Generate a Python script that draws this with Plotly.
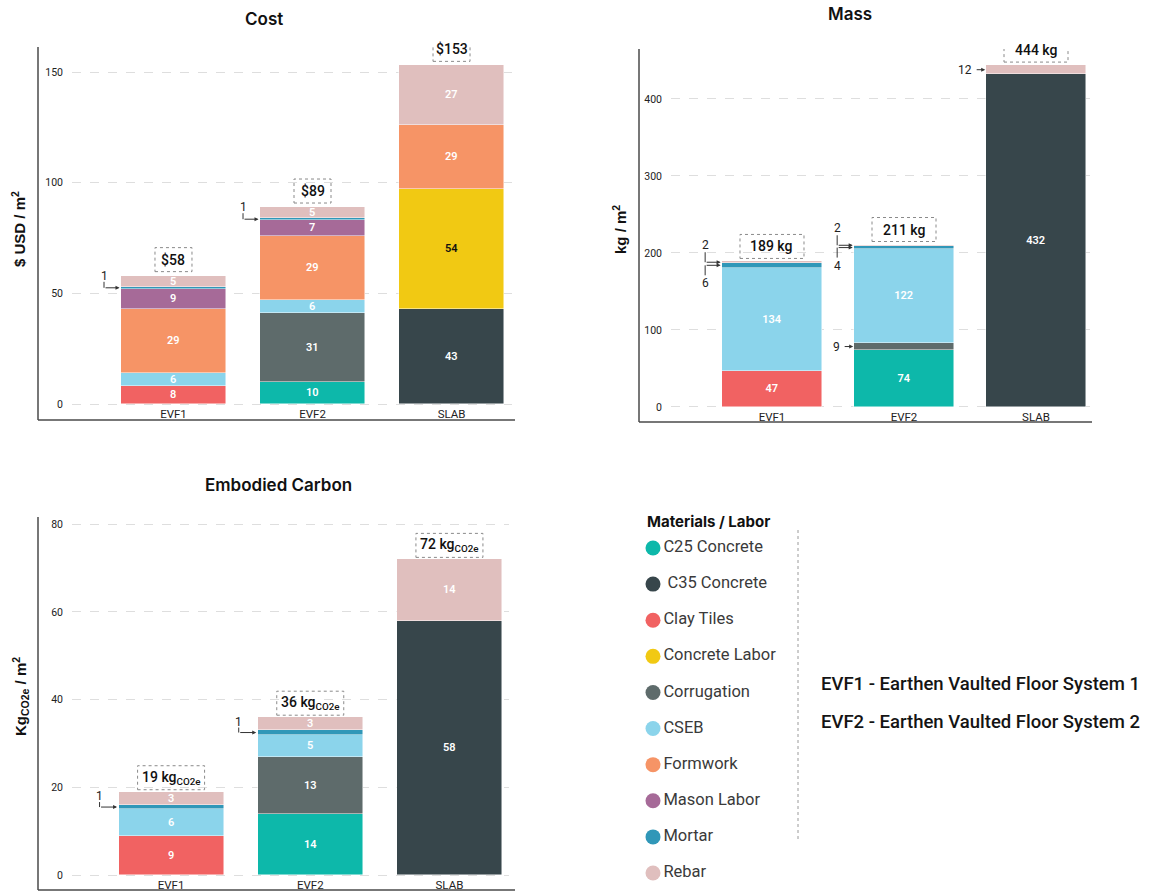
import plotly.graph_objects as go

W, H = 1151, 891

categories = ["EVF1", "EVF2", "SLAB"]
materials = ["C25 Concrete", "C35 Concrete", "Clay Tiles", "Concrete Labor", "Corrugation",
             "CSEB", "Formwork", "Mason Labor", "Mortar", "Rebar"]
legend_labels = ["C25 Concrete", "\u00a0C35 Concrete", "Clay Tiles", "Concrete Labor", "Corrugation",
                 "CSEB", "Formwork", "Mason Labor", "Mortar", "Rebar"]
colors = ["#0db8aa", "#37464b", "#f16262", "#f1c913", "#5e6b6b",
          "#8bd4eb", "#f69466", "#a66a98", "#3097b8", "#e0bfbe"]

# values per category, aligned with `materials`
cost_evf1 = [0, 0, 8, 0, 0, 6, 29, 9, 1, 5]
cost_evf2 = [10, 0, 0, 0, 31, 6, 29, 7, 1, 5]
cost_slab = [0, 43, 0, 54, 0, 0, 29, 0, 0, 27]

mass_evf1 = [0, 0, 47, 0, 0, 134, 0, 0, 6, 2]
mass_evf2 = [74, 0, 0, 0, 9, 122, 0, 0, 4, 2]
mass_slab = [0, 432, 0, 0, 0, 0, 0, 0, 0, 12]

carbon_evf1 = [0, 0, 9, 0, 0, 6, 0, 0, 1, 3]
carbon_evf2 = [14, 0, 0, 0, 13, 5, 0, 0, 1, 3]
carbon_slab = [0, 58, 0, 0, 0, 0, 0, 0, 0, 14]

# small segments labelled outside with an arrow
cost_callouts = [("EVF1", "Mortar", "up"), ("EVF2", "Mortar", "up")]
mass_callouts = [("EVF1", "Rebar", "up"), ("EVF1", "Mortar", "down"),
                 ("EVF2", "Rebar", "up"), ("EVF2", "Mortar", "down"),
                 ("EVF2", "Corrugation", "side"), ("SLAB", "Rebar", "side")]
carbon_callouts = [("EVF1", "Mortar", "up"), ("EVF2", "Mortar", "up")]

system_notes = ["EVF1 - Earthen Vaulted Floor System 1", "EVF2 - Earthen Vaulted Floor System 2"]

BAR_W = 0.755


def fx(p):
    return p / W


def fy(p):
    return 1 - p / H


charts = [
    dict(title="Cost", xa="x", ya="y", rows=[cost_evf1, cost_evf2, cost_slab], callouts=cost_callouts,
         xdom=(72, 512), ydom=(47, 420), zero_px=404, xr=(-0.730, 2.435), yr=(-7.23, 161.3), dtick=50,
         fmt="${}", box_w=37, box_gap=4, up_dy=12, up_line=6, down_dy=17, down_line=10, lab_dx=-17,
         axis=(38, 47, 420, 515), title_xy=(264, 19),
         ytitle="$ USD / m<sup>2</sup>", ytitle_xy=(18, 229)),
    dict(title="Mass", xa="x2", ya="y2", rows=[mass_evf1, mass_evf2, mass_slab], callouts=mass_callouts,
         xdom=(671, 1090), ydom=(49, 422), zero_px=407, xr=(-0.765, 2.409), yr=(-19.5, 464.9), dtick=100,
         fmt="{} kg", box_w=64, box_gap=3, up_dy=17, up_line=10, down_dy=18, down_line=10, lab_dx=-17,
         axis=(639, 49, 422, 1092), title_xy=(850, 14),
         ytitle="kg / m<sup>2</sup>", ytitle_xy=(620, 230)),
    dict(title="Embodied Carbon", xa="x3", ya="y3", rows=[carbon_evf1, carbon_evf2, carbon_slab],
         callouts=carbon_callouts,
         xdom=(72, 509), ydom=(517, 890), zero_px=875, xr=(-0.712, 2.428), yr=(-3.42, 81.67), dtick=20,
         fmt="{} kg<sub>CO2e</sub>", box_w=67, box_gap=2, up_dy=11, up_line=5, down_dy=17, down_line=10,
         lab_dx=-19,
         axis=(38, 517, 890, 515), title_xy=(278, 485),
         ytitle="Kg<sub>CO2e</sub> / m<sup>2</sup>", ytitle_xy=(20, 697)),
]

fig = go.Figure()
annotations = []
shapes = []
layout_axes = {}

for k, ch in enumerate(charts):
    xa, ya = ch["xa"], ch["ya"]
    callout_set = {(c, m) for c, m, _ in ch["callouts"]}
    for mi, mat in enumerate(materials):
        vals = [row[mi] for row in ch["rows"]]
        if not any(vals):
            continue
        ys = [v if v else None for v in vals]
        texts = ["" if (not v or (cat, mat) in callout_set) else str(v)
                 for cat, v in zip(categories, vals)]
        fig.add_trace(go.Bar(
            x=categories, y=ys, width=BAR_W, name=mat,
            marker=dict(color=colors[mi], line=dict(color="rgba(255,255,255,0.8)", width=0.6)),
            text=texts, textposition="inside", insidetextanchor="middle", textangle=0,
            constraintext="none",
            textfont=dict(family="Roboto", size=11, weight=600,
                          color="#111111" if mat == "Concrete Labor" else "#ffffff"),
            xaxis=xa, yaxis=ya, showlegend=False, hoverinfo="skip"))

    # totals with dashed boxes
    for ci, cat in enumerate(categories):
        total = sum(ch["rows"][ci])
        shapes.append(dict(type="rect", xref=xa, yref=ya,
                           xsizemode="pixel", xanchor=ci, x0=-ch["box_w"] / 2, x1=ch["box_w"] / 2,
                           ysizemode="pixel", yanchor=total, y0=ch["box_gap"], y1=ch["box_gap"] + 24,
                           line=dict(color="#8a8a8a", width=1, dash="dot")))
        annotations.append(dict(x=ci, y=total, xref=xa, yref=ya, yshift=ch["box_gap"] + 12,
                                text=ch["fmt"].format(total), showarrow=False,
                                xanchor="center", yanchor="middle",
                                font=dict(family="Roboto", size=14, color="#111111", weight=500)))

    # callouts
    for cat, mat, style in ch["callouts"]:
        ci = categories.index(cat)
        mi = materials.index(mat)
        v = ch["rows"][ci][mi]
        mid = sum(ch["rows"][ci][:mi]) + v / 2
        edge = ci - BAR_W / 2
        lab_font = dict(family="Roboto", size=12, color="#222222")
        if style == "side":
            annotations.append(dict(x=edge, y=mid, xref=xa, yref=ya, xshift=-12, text=str(v),
                                    showarrow=False, xanchor="right", yanchor="middle", font=lab_font))
            annotations.append(dict(x=edge, y=mid, xref=xa, yref=ya, text="", showarrow=True,
                                    ax=-11, ay=0, axref="pixel", ayref="pixel", arrowhead=2,
                                    arrowsize=0.8, arrowwidth=1, arrowcolor="#333333", standoff=1))
        else:
            dy = ch["up_dy"] if style == "up" else -ch["down_dy"]
            ln = ch["up_line"] if style == "up" else -ch["down_line"]
            annotations.append(dict(x=edge, y=mid, xref=xa, yref=ya, xshift=ch["lab_dx"], yshift=dy,
                                    text=str(v), showarrow=False, xanchor="center", yanchor="middle",
                                    font=lab_font))
            shapes.append(dict(type="line", xref=xa, yref=ya,
                               xsizemode="pixel", xanchor=edge, x0=ch["lab_dx"], x1=ch["lab_dx"],
                               ysizemode="pixel", yanchor=mid, y0=0, y1=ln,
                               line=dict(color="#333333", width=1)))
            annotations.append(dict(x=edge, y=mid, xref=xa, yref=ya, text="", showarrow=True,
                                    ax=ch["lab_dx"], ay=0, axref="pixel", ayref="pixel", arrowhead=2,
                                    arrowsize=0.8, arrowwidth=1, arrowcolor="#333333", standoff=1.5))

    # axis lines
    axx, ytop, ybot, xend = ch["axis"]
    shapes.append(dict(type="line", xref="paper", yref="paper", x0=fx(axx), x1=fx(axx),
                       y0=fy(ytop), y1=fy(ybot), line=dict(color="#4a4a4a", width=1.5)))
    shapes.append(dict(type="line", xref="paper", yref="paper", x0=fx(axx), x1=fx(xend),
                       y0=fy(ybot), y1=fy(ybot), line=dict(color="#4a4a4a", width=1.5)))

    # titles
    tx, ty = ch["title_xy"]
    annotations.append(dict(x=fx(tx), y=fy(ty), xref="paper", yref="paper", text=ch["title"],
                            showarrow=False, xanchor="center", yanchor="middle",
                            font=dict(family="Inter", size=17, weight=600, color="#111111")))
    yx, yy = ch["ytitle_xy"]
    annotations.append(dict(x=fx(yx), y=fy(yy), xref="paper", yref="paper", text=ch["ytitle"],
                            showarrow=False, textangle=-90, xanchor="center", yanchor="middle",
                            font=dict(family="Liberation Sans", size=15, weight="bold", color="#111111")))

    sfx = "" if k == 0 else str(k + 1)
    layout_axes["xaxis" + sfx] = dict(
        domain=[fx(ch["xdom"][0]), fx(ch["xdom"][1])], anchor="free", position=fy(ch["zero_px"]),
        type="category", categoryorder="array", categoryarray=categories, range=list(ch["xr"]),
        showgrid=False, zeroline=False, showline=False, ticks="", ticklabelstandoff=1,
        tickfont=dict(family="Roboto", size=11.5, color="#222222"), fixedrange=True)
    layout_axes["yaxis" + sfx] = dict(
        domain=[fy(ch["ydom"][1]), fy(ch["ydom"][0])], anchor=xa, range=list(ch["yr"]),
        dtick=ch["dtick"], tick0=0, showgrid=True, gridcolor="#dedede", griddash="dash", gridwidth=1,
        zeroline=False, showline=False, ticks="", ticklabelstandoff=8,
        tickfont=dict(family="Roboto", size=10.5, color="#222222"), fixedrange=True)

# legend drawn on its own hidden axes
fig.add_trace(go.Scatter(
    x=[13] * len(materials), y=list(range(len(materials))), mode="markers+text",
    marker=dict(color=colors, size=15, line=dict(width=0)),
    text=legend_labels, textposition="middle right",
    textfont=dict(family="Roboto", size=16.5, color="#3a3a3a"),
    xaxis="x4", yaxis="y4", showlegend=False, hoverinfo="skip", cliponaxis=False))
layout_axes["xaxis4"] = dict(domain=[fx(640), fx(800)], range=[0, 160], visible=False, anchor="y4",
                             fixedrange=True)
layout_axes["yaxis4"] = dict(domain=[fy(891), fy(530)], range=[9.4985, -0.4985], visible=False,
                             anchor="x4", fixedrange=True)

annotations.append(dict(x=fx(645), y=fy(521), xref="paper", yref="paper", text="Materials / Labor",
                        showarrow=False, xanchor="left", yanchor="middle",
                        font=dict(family="Inter", size=15, weight=700, color="#111111")))
shapes.append(dict(type="line", xref="paper", yref="paper", x0=fx(798), x1=fx(798),
                   y0=fy(530), y1=fy(840), line=dict(color="#9a9a9a", width=1, dash="dot")))
for i, note in enumerate(system_notes):
    annotations.append(dict(x=fx(819), y=fy(684 + 38 * i), xref="paper", yref="paper", text=note,
                            showarrow=False, xanchor="left", yanchor="middle",
                            font=dict(family="Roboto", size=18.5, weight=500, color="#141414")))

fig.update_layout(
    width=W, height=H, margin=dict(l=0, r=0, t=0, b=0),
    paper_bgcolor="white", plot_bgcolor="white",
    barmode="stack", bargap=0, showlegend=False,
    font=dict(family="Roboto", color="#222222"),
    annotations=annotations, shapes=shapes, hovermode=False,
    **layout_axes)

fig.write_html("out.html", config={"displayModeBar": False})
